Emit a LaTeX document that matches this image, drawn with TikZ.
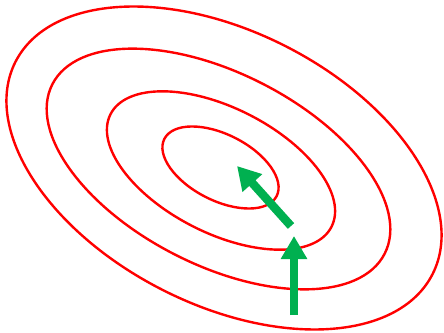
\documentclass[tikz,border=0pt]{standalone}
\usepackage{xcolor}
\usepackage{tikz}
\usetikzlibrary{arrows.meta}
\definecolor{contourc}{HTML}{FF0000}
\definecolor{stepc}{HTML}{00B050}
\tikzset{
  contour/.style={contourc,line width=2.4pt},
  gradstep/.style={stepc,line width=8.5pt,-{Triangle[length=23pt,width=25pt]}}
}

\begin{document}
\begin{tikzpicture}[x=1pt,y=1pt]
  \useasboundingbox (0,0) rectangle (444,332);
  % level sets
  \foreach \cx/\cy/\a/\b in {220.5/164.5/63/33,221/161.5/124/62.5,218.5/163/186.5/96,224/164/234/136.5} {
    \draw[contour,rotate around={-27:(\cx,\cy)}] (\cx,\cy) ellipse [x radius=\a,y radius=\b];
  }
  % descent steps
  \coordinate (s0) at (294,17);
  \coordinate (s1) at (294,96);
  \coordinate (s2) at (291,106);
  \coordinate (s3) at (237,166);
  \draw[gradstep] (s0) -- (s1);
  \draw[gradstep] (s2) -- (s3);
\end{tikzpicture}
\end{document}
